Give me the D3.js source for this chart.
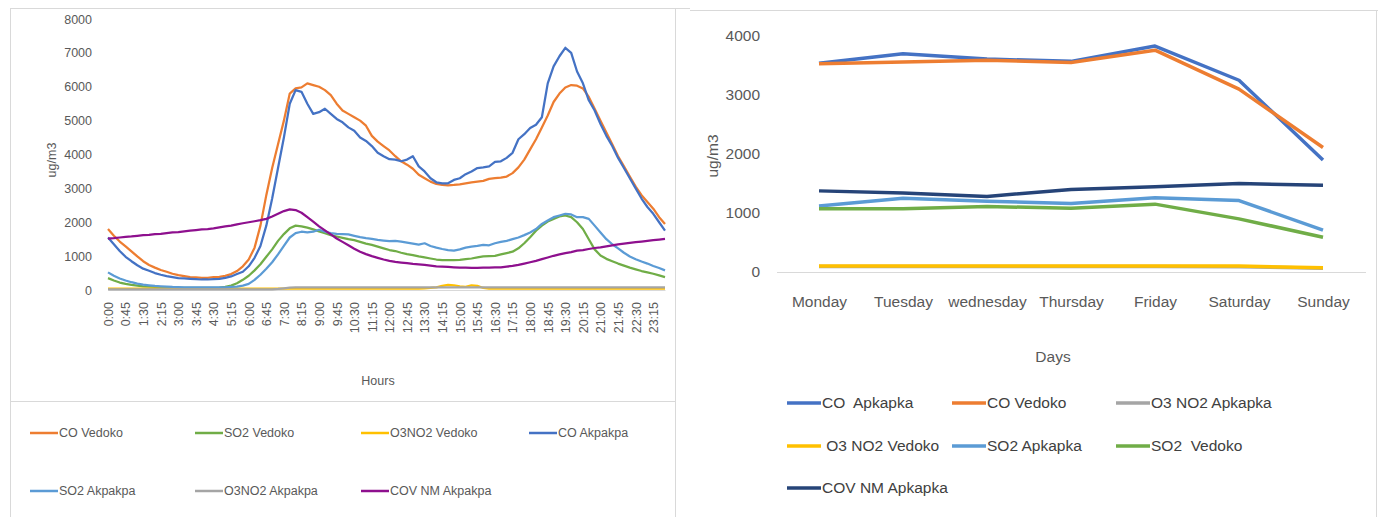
<!DOCTYPE html>
<html><head><meta charset="utf-8">
<script src="https://cdn.jsdelivr.net/npm/d3@7"></script>
<style>
body{margin:0;background:#fff;}
svg{font-family:"Liberation Sans",Arial,sans-serif;}
</style></head><body>
<script>
// ---------- LEFT CHART DATA (15-minute profile) ----------
const hours = ["0:00","0:15","0:30","0:45","1:00","1:15","1:30","1:45","2:00","2:15","2:30","2:45","3:00","3:15","3:30","3:45",
"4:00","4:15","4:30","4:45","5:00","5:15","5:30","5:45","6:00","6:15","6:30","6:45","7:00","7:15","7:30","7:45",
"8:00","8:15","8:30","8:45","9:00","9:15","9:30","9:45","10:00","10:15","10:30","10:45","11:00","11:15","11:30","11:45",
"12:00","12:15","12:30","12:45","13:00","13:15","13:30","13:45","14:00","14:15","14:30","14:45","15:00","15:15","15:30","15:45",
"16:00","16:15","16:30","16:45","17:00","17:15","17:30","17:45","18:00","18:15","18:30","18:45","19:00","19:15","19:30","19:45",
"20:00","20:15","20:30","20:45","21:00","21:15","21:30","21:45","22:00","22:15","22:30","22:45","23:00","23:15","23:30","23:45"];
const hourTicks = ["0:00","0:45","1:30","2:15","3:00","3:45","4:30","5:15","6:00","6:45","7:30","8:15","9:00","9:45","10:30","11:15",
"12:00","12:45","13:30","14:15","15:00","15:45","16:30","17:15","18:00","18:45","19:30","20:15","21:00","21:45","22:30","23:15"];
const yTicksLeft = [0,1000,2000,3000,4000,5000,6000,7000,8000];

const coVedoko = [1800,1600,1430,1290,1140,990,850,740,660,590,540,480,440,410,380,370,
360,360,380,390,420,470,560,700,900,1250,1900,2800,3600,4300,5000,5800,
5950,5980,6100,6050,6000,5900,5750,5500,5300,5200,5100,5000,4850,4550,4380,4250,
4120,3950,3800,3700,3580,3400,3300,3200,3130,3100,3090,3100,3120,3150,3180,3200,
3220,3280,3300,3320,3350,3450,3620,3850,4150,4450,4800,5150,5550,5800,5980,6050,
6030,5950,5700,5350,5000,4650,4300,3950,3650,3350,3050,2800,2600,2400,2150,1950];
const so2Vedoko = [350,280,220,180,150,130,110,100,90,80,75,70,65,60,60,60,
60,60,60,70,90,130,200,300,420,580,760,980,1200,1450,1650,1820,
1900,1880,1840,1790,1730,1680,1620,1580,1540,1500,1470,1420,1370,1330,1280,1230,
1180,1150,1100,1060,1030,990,960,930,900,880,880,880,890,910,930,960,
990,1000,1010,1050,1090,1130,1230,1380,1560,1750,1900,2020,2100,2170,2200,2150,
2000,1800,1500,1200,1020,920,850,780,720,660,610,560,520,480,430,380];
const o3no2Vedoko = [40,40,40,40,40,40,40,40,40,40,40,40,40,40,40,40,
40,40,40,40,40,40,40,40,40,40,40,40,40,40,40,40,
40,40,40,40,40,40,40,40,40,40,40,40,40,40,40,40,
40,40,40,40,40,40,50,60,80,120,150,140,110,90,140,120,
60,40,40,40,40,40,40,40,40,40,40,40,40,40,40,40,
40,40,40,40,40,40,40,40,40,40,40,40,40,40,40,40];
const coAkpakpa = [1550,1350,1150,980,850,730,630,570,500,450,410,380,350,340,330,320,
310,310,320,330,360,400,470,540,700,950,1300,1900,2700,3600,4500,5500,
5900,5850,5500,5200,5250,5350,5200,5050,4950,4800,4700,4500,4400,4250,4050,3950,
3860,3850,3800,3850,3950,3650,3500,3300,3180,3150,3150,3250,3300,3420,3500,3600,
3620,3650,3780,3800,3900,4050,4450,4600,4780,4880,5100,6100,6600,6900,7150,7000,
6450,6100,5600,5300,4900,4550,4250,3900,3600,3300,3000,2700,2450,2250,2000,1750];
const so2Akpakpa = [520,420,340,280,230,190,160,140,120,110,100,90,85,80,80,75,
75,75,75,75,80,90,100,130,180,300,450,630,820,1050,1300,1550,
1680,1720,1700,1720,1780,1720,1680,1660,1650,1640,1600,1560,1530,1510,1480,1460,
1440,1450,1430,1400,1370,1340,1380,1300,1250,1210,1180,1160,1200,1250,1280,1300,
1330,1320,1380,1420,1450,1500,1550,1620,1700,1800,1950,2050,2150,2200,2250,2230,
2150,2150,2100,1900,1700,1500,1350,1230,1100,990,910,840,780,710,650,580];
const o3no2Akpakpa = [20,20,20,20,20,20,20,20,20,20,20,20,20,20,20,20,
20,20,20,20,20,20,20,20,20,20,20,20,20,30,50,70,
80,80,80,80,80,80,80,80,80,80,80,80,80,80,80,80,
80,80,80,80,80,80,80,80,80,80,80,80,80,80,80,80,
80,80,80,80,80,80,80,80,80,80,80,80,80,80,80,80,
80,80,80,80,80,80,80,80,80,80,80,80,80,80,80,80];
const covNmAkpakpa = [1520,1530,1550,1570,1580,1600,1620,1630,1650,1660,1680,1700,1710,1730,1750,1770,
1790,1800,1820,1850,1880,1900,1940,1970,2000,2030,2060,2100,2170,2250,2330,2380,
2360,2280,2150,2020,1880,1760,1640,1520,1420,1320,1220,1130,1060,1000,950,900,
860,830,810,790,770,755,740,720,700,690,680,670,660,660,655,655,
660,660,665,670,690,710,740,780,820,860,910,960,1010,1050,1090,1120,
1160,1180,1210,1240,1260,1290,1320,1350,1370,1390,1410,1430,1450,1470,1490,1510];

const leftSeries = [
  {name:"CO Vedoko", values:coVedoko, color:"#ED7D31"},
  {name:"SO2 Vedoko", values:so2Vedoko, color:"#70AD47"},
  {name:"O3NO2 Vedoko", values:o3no2Vedoko, color:"#FFC000"},
  {name:"CO Akpakpa", values:coAkpakpa, color:"#4472C4"},
  {name:"SO2 Akpakpa", values:so2Akpakpa, color:"#5B9BD5"},
  {name:"O3NO2 Akpakpa", values:o3no2Akpakpa, color:"#A5A5A5"},
  {name:"COV NM Akpakpa", values:covNmAkpakpa, color:"#8E108E"}
];

// ---------- RIGHT CHART DATA (weekly profile) ----------
const days = ["Monday","Tuesday","wednesday","Thursday","Friday","Saturday","Sunday"];
const yTicksRight = [0,1000,2000,3000,4000];
const coApkapkaW = [3540,3700,3610,3570,3830,3250,1900];
const coVedokoW = [3530,3560,3590,3550,3760,3100,2110];
const o3no2ApkapkaW = [95,95,95,95,95,90,65];
const o3no2VedokoW = [100,100,100,100,100,100,70];
const so2ApkapkaW = [1120,1250,1200,1160,1260,1210,710];
const so2VedokoW = [1070,1070,1110,1080,1150,900,590];
const covNmApkapkaW = [1375,1340,1280,1400,1445,1500,1470];

const rightSeries = [
  {name:"CO  Apkapka", values:coApkapkaW, color:"#4472C4"},
  {name:"CO Vedoko", values:coVedokoW, color:"#ED7D31"},
  {name:"O3 NO2 Apkapka", values:o3no2ApkapkaW, color:"#A5A5A5"},
  {name:" O3 NO2 Vedoko", values:o3no2VedokoW, color:"#FFC000"},
  {name:"SO2 Apkapka", values:so2ApkapkaW, color:"#5B9BD5"},
  {name:"SO2  Vedoko", values:so2VedokoW, color:"#70AD47"},
  {name:"COV NM Apkapka", values:covNmApkapkaW, color:"#264478"}
];

const W = 1378, H = 517;
const svg = d3.select("body").append("svg").attr("width", W).attr("height", H);
const border = "#D9D9D9";

// frames
svg.append("line").attr("x1",10).attr("x2",690).attr("y1",8.5).attr("y2",8.5).attr("stroke",border);
svg.append("line").attr("x1",10.5).attr("x2",10.5).attr("y1",8).attr("y2",517).attr("stroke",border);
svg.append("line").attr("x1",675.5).attr("x2",675.5).attr("y1",8).attr("y2",517).attr("stroke",border);
svg.append("line").attr("x1",10).attr("x2",676).attr("y1",401.5).attr("y2",401.5).attr("stroke",border);
svg.append("line").attr("x1",690).attr("x2",1378).attr("y1",10.5).attr("y2",10.5).attr("stroke",border);
svg.append("line").attr("x1",1376.5).attr("x2",1376.5).attr("y1",10).attr("y2",517).attr("stroke",border);

// ---------- LEFT CHART ----------
const xL = d3.scalePoint().domain(hours).range([108, 665]);
const yL = d3.scaleLinear().domain([0, 8000]).range([290, 19]);
const gL = svg.append("g");

const yAxL = gL.append("g").attr("transform","translate(100,0)")
  .call(d3.axisLeft(yL).tickValues(yTicksLeft).tickSize(0).tickPadding(8).tickFormat(d3.format("d")));
yAxL.select(".domain").remove();
yAxL.selectAll("text").attr("fill","#595959").style("font-size","12.5px");

const xAxL = gL.append("g").attr("transform","translate(0,290)")
  .call(d3.axisBottom(xL).tickValues(hourTicks).tickSize(0));
xAxL.select(".domain").attr("stroke",border);
xAxL.selectAll("text").attr("fill","#595959").style("font-size","12.5px")
  .attr("transform","rotate(-90)").attr("x",-12).attr("y",0).attr("dy","0.35em")
  .style("text-anchor","end");

gL.append("text").attr("transform","translate(56,160) rotate(-90)").attr("text-anchor","middle")
  .attr("fill","#595959").style("font-size","12.5px").text("ug/m3");
gL.append("text").attr("x",378).attr("y",385).attr("text-anchor","middle")
  .attr("fill","#595959").style("font-size","12.5px").text("Hours");

const lineL = d3.line().x((d,i)=>xL(hours[i])).y(d=>yL(d));
gL.selectAll("path.s").data(leftSeries).join("path").attr("class","s")
  .attr("d", d=>lineL(d.values)).attr("fill","none").attr("stroke",d=>d.color)
  .attr("stroke-width",2.25).attr("stroke-linejoin","round");

// left legend
const legL = [[30,433],[195,433],[361,433],[529,433],[30,491],[195,491],[361,491]];
const lgL = gL.selectAll("g.lg").data(leftSeries).join("g").attr("class","lg")
  .attr("transform",(d,i)=>`translate(${legL[i][0]},${legL[i][1]})`);
lgL.append("line").attr("x1",0).attr("x2",28).attr("stroke",d=>d.color).attr("stroke-width",2.5);
lgL.append("text").attr("x",29).attr("dy","0.35em").attr("fill","#595959").style("font-size","12.5px").text(d=>d.name);

// ---------- RIGHT CHART ----------
const xR = d3.scalePoint().domain(days).range([819, 1323]);
const yR = d3.scaleLinear().domain([0, 4000]).range([272, 36]);
const gR = svg.append("g");

const yAxR = gR.append("g").attr("transform","translate(768,0)")
  .call(d3.axisLeft(yR).tickValues(yTicksRight).tickSize(0).tickPadding(8).tickFormat(d3.format("d")));
yAxR.select(".domain").remove();
yAxR.selectAll("text").attr("fill","#595959").style("font-size","15.5px");

gR.append("line").attr("x1",777).attr("x2",1366).attr("y1",272.5).attr("y2",272.5).attr("stroke",border);
const xAxR = gR.append("g").attr("transform","translate(0,272)")
  .call(d3.axisBottom(xR).tickSize(0).tickPadding(24));
xAxR.select(".domain").remove();
xAxR.selectAll("text").attr("fill","#595959").style("font-size","15.5px");

gR.append("text").attr("transform","translate(718,156) rotate(-90)").attr("text-anchor","middle")
  .attr("fill","#595959").style("font-size","15.5px").text("ug/m3");
gR.append("text").attr("x",1053).attr("y",362).attr("text-anchor","middle")
  .attr("fill","#595959").style("font-size","15.5px").text("Days");

const lineR = d3.line().x((d,i)=>xR(days[i])).y(d=>yR(d));
gR.selectAll("path.s").data(rightSeries).join("path").attr("class","s")
  .attr("d", d=>lineR(d.values)).attr("fill","none").attr("stroke",d=>d.color)
  .attr("stroke-width",3.5).attr("stroke-linejoin","round");

const legR = [[787,403],[952,403],[1116,403],[787,446],[952,446],[1116,446],[787,488]];
const lgR = gR.selectAll("g.lg").data(rightSeries).join("g").attr("class","lg")
  .attr("transform",(d,i)=>`translate(${legR[i][0]},${legR[i][1]})`);
lgR.append("line").attr("x1",0).attr("x2",34).attr("stroke",d=>d.color).attr("stroke-width",3.5);
lgR.append("text").attr("x",35).attr("dy","0.35em").attr("fill","#404040").style("font-size","15.5px")
  .style("white-space","pre").text(d=>d.name);
</script>
</body></html>
